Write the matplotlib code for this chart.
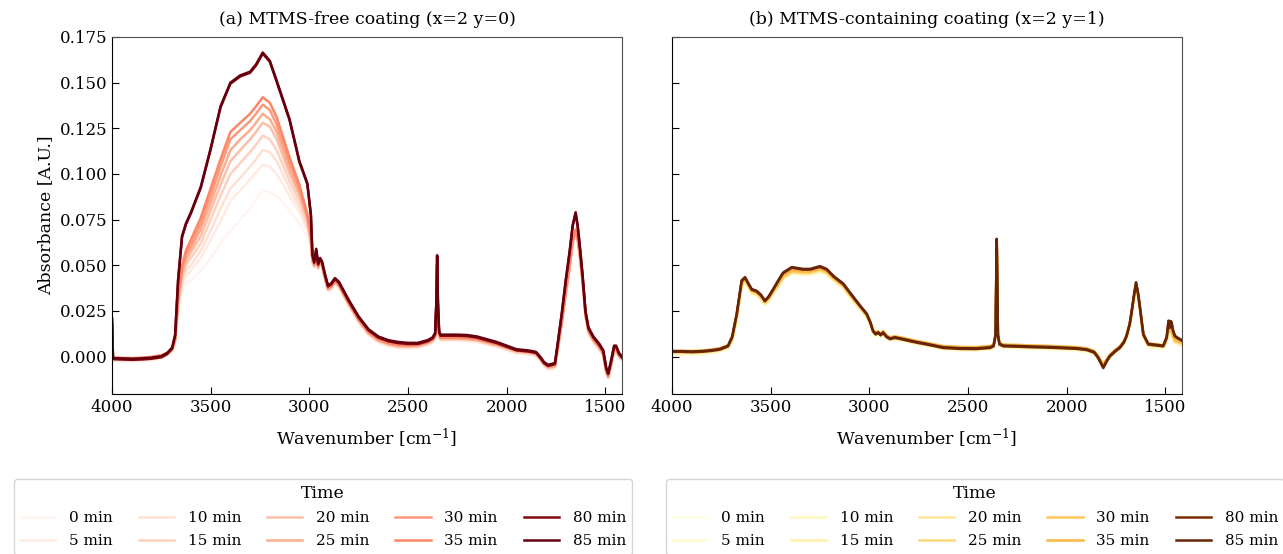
import numpy as np
import matplotlib
matplotlib.use("Agg")
import matplotlib.pyplot as plt
from matplotlib.ticker import MultipleLocator, FormatStrFormatter

plt.rcParams['font.family'] = ['DejaVu Serif']
plt.rcParams['mathtext.fontset'] = 'dejavuserif'

TIMES = [0, 5, 10, 15, 20, 25, 30, 35, 80, 85]
LABELS = [f"{t} min" for t in TIMES]
TITLES = ["(a) MTMS-free coating (x=2 y=0)", "(b) MTMS-containing coating (x=2 y=1)"]

# ---------------- Panel (a) ----------------
WN_A_HEAD = [4000, 3995, 3950, 3900, 3850, 3800, 3750]
A_HEAD_DARK = [0.021, -0.0008, -0.0010, -0.0012, -0.0010, -0.0006, 0.0002]
A_HEAD_LIGHT = [0.018, -0.0012, -0.0012, -0.0013, -0.0011, -0.0007, 0.0002]

WN_A_BAND = [3720, 3695, 3680, 3665, 3645, 3625, 3600, 3550, 3500, 3450, 3400,
             3350, 3300, 3270, 3236, 3200, 3165, 3100, 3050, 3010, 2992, 2984]
A_BAND_DARK = [0.002, 0.005, 0.012, 0.042, 0.066, 0.073, 0.079, 0.093, 0.114, 0.137, 0.150,
               0.154, 0.156, 0.160, 0.1665, 0.162, 0.151, 0.130, 0.107, 0.095, 0.078, 0.056]
A_BAND_35 = [0.002, 0.004, 0.010, 0.032, 0.050, 0.058, 0.064, 0.076, 0.092, 0.108, 0.123,
             0.128, 0.133, 0.137, 0.142, 0.139, 0.131, 0.109, 0.094, 0.078, 0.066, 0.054]
A_BAND_30 = [0.002, 0.004, 0.010, 0.031, 0.048, 0.056, 0.061, 0.073, 0.088, 0.104, 0.119,
             0.124, 0.129, 0.133, 0.138, 0.135, 0.127, 0.106, 0.092, 0.077, 0.065, 0.054]
A_BAND_25 = [0.002, 0.004, 0.009, 0.030, 0.047, 0.054, 0.059, 0.070, 0.084, 0.099, 0.113,
             0.119, 0.124, 0.128, 0.133, 0.130, 0.123, 0.103, 0.090, 0.076, 0.065, 0.053]
A_BAND_20 = [0.002, 0.004, 0.009, 0.029, 0.045, 0.052, 0.057, 0.066, 0.080, 0.094, 0.107,
             0.113, 0.119, 0.123, 0.128, 0.126, 0.119, 0.100, 0.088, 0.075, 0.064, 0.053]
A_BAND_15 = [0.001, 0.003, 0.009, 0.028, 0.043, 0.050, 0.054, 0.062, 0.075, 0.088, 0.100,
             0.106, 0.112, 0.116, 0.121, 0.119, 0.113, 0.096, 0.085, 0.073, 0.063, 0.052]
A_BAND_10 = [0.001, 0.003, 0.008, 0.027, 0.041, 0.047, 0.050, 0.058, 0.069, 0.081, 0.092,
             0.098, 0.104, 0.108, 0.113, 0.112, 0.107, 0.092, 0.082, 0.071, 0.062, 0.052]
A_BAND_5 = [0.001, 0.003, 0.008, 0.026, 0.039, 0.044, 0.047, 0.054, 0.064, 0.074, 0.085,
            0.091, 0.097, 0.101, 0.105, 0.104, 0.100, 0.088, 0.079, 0.069, 0.061, 0.051]
A_BAND_0 = [0.001, 0.003, 0.007, 0.024, 0.035, 0.040, 0.042, 0.047, 0.054, 0.062, 0.069,
            0.075, 0.081, 0.086, 0.091, 0.090, 0.088, 0.080, 0.073, 0.065, 0.059, 0.050]

WN_A_TAIL = [2975, 2965, 2955, 2945, 2935, 2920, 2905, 2890, 2870, 2850,
             2800, 2750, 2700, 2650, 2600, 2550, 2500, 2450, 2400, 2375,
             2362, 2356, 2352, 2348, 2342, 2335, 2300, 2250, 2200, 2150,
             2100, 2050, 2000, 1950, 1900, 1870, 1850, 1830, 1810, 1790,
             1770, 1755, 1740, 1720, 1700, 1680, 1665, 1650, 1640, 1630,
             1615, 1600, 1585, 1560, 1530, 1510, 1495, 1485, 1470, 1455,
             1445, 1430, 1415]
A_TAIL_DARK = [0.052, 0.059, 0.051, 0.054, 0.052, 0.045, 0.039, 0.040, 0.043, 0.041,
               0.031, 0.022, 0.015, 0.011, 0.009, 0.008, 0.0075, 0.0075, 0.009, 0.0105,
               0.013, 0.030, 0.0555, 0.030, 0.014, 0.012, 0.012, 0.012, 0.0118, 0.011,
               0.0095, 0.008, 0.006, 0.004, 0.0035, 0.003, 0.0025, 0.000, -0.003, -0.0045,
               -0.004, -0.0035, 0.008, 0.024, 0.042, 0.058, 0.072, 0.079, 0.072, 0.062,
               0.045, 0.025, 0.016, 0.011, 0.007, 0.0035, -0.006, -0.009, -0.002, 0.006,
               0.006, 0.002, 0.000]
A_TAIL_LIGHT = [0.050, 0.056, 0.049, 0.052, 0.050, 0.043, 0.037, 0.038, 0.041, 0.039,
                0.029, 0.020, 0.013, 0.009, 0.007, 0.006, 0.0058, 0.006, 0.0075, 0.009,
                0.011, 0.027, 0.050, 0.027, 0.012, 0.010, 0.010, 0.010, 0.0098, 0.0092,
                0.0078, 0.0065, 0.0048, 0.003, 0.0025, 0.002, 0.0015, -0.001, -0.004, -0.0058,
                -0.0055, -0.005, 0.005, 0.019, 0.035, 0.050, 0.063, 0.069, 0.065, 0.057,
                0.042, 0.023, 0.014, 0.009, 0.005, 0.0015, -0.008, -0.011, -0.004, 0.004,
                0.004, 0.0005, -0.001]
A_OFFSET = [-0.0015, -0.0010, -0.0008, -0.0005, -0.0003, 0.0, 0.0003, 0.0005, -0.0006, 0.0]

# ---------------- Panel (b) ----------------
WN_B = [4000, 3950, 3900, 3850, 3800, 3757, 3716, 3695, 3672, 3647,
        3630, 3612, 3596, 3571, 3550, 3529, 3510, 3487, 3460, 3437,
        3393, 3336, 3300, 3267, 3250, 3216, 3180, 3132, 3090, 3047,
        3013, 2995, 2981, 2968, 2955, 2942, 2930, 2912, 2895, 2870,
        2830, 2794, 2750, 2710, 2626, 2540, 2460, 2388, 2370, 2360,
        2354, 2348, 2340, 2320, 2250, 2170, 2100, 2030, 1949, 1900,
        1880, 1860, 1840, 1814, 1795, 1780, 1755, 1730, 1710, 1696,
        1680, 1670, 1658, 1648, 1638, 1628, 1611, 1586, 1550, 1510,
        1493, 1483, 1478, 1472, 1468, 1460, 1451, 1440, 1426, 1415]
B_DARK = [0.003, 0.003, 0.0028, 0.003, 0.0035, 0.0042, 0.006, 0.011, 0.0235, 0.0417,
          0.0435, 0.040, 0.037, 0.036, 0.034, 0.0307, 0.033, 0.037, 0.042, 0.046,
          0.049, 0.048, 0.048, 0.049, 0.0495, 0.048, 0.044, 0.040, 0.034, 0.028,
          0.0235, 0.019, 0.0142, 0.0125, 0.0133, 0.012, 0.0133, 0.011, 0.0099, 0.0106,
          0.0097, 0.0088, 0.0078, 0.007, 0.0051, 0.0046, 0.0045, 0.0051, 0.006, 0.012,
          0.0645, 0.012, 0.007, 0.006, 0.0058, 0.0055, 0.0053, 0.005, 0.0046, 0.004,
          0.0033, 0.0025, -0.0004, -0.0059, -0.002, 0.0005, 0.003, 0.0051, 0.008, 0.0115,
          0.018, 0.025, 0.034, 0.0407, 0.035, 0.027, 0.0124, 0.007, 0.0065, 0.006,
          0.0106, 0.0197, 0.016, 0.0195, 0.0188, 0.0142, 0.0115, 0.0105, 0.0097, 0.009]
B_LIGHT = [0.001, 0.001, 0.001, 0.0012, 0.0018, 0.0025, 0.004, 0.008, 0.020, 0.038,
           0.0405, 0.037, 0.034, 0.033, 0.031, 0.028, 0.030, 0.034, 0.038, 0.042,
           0.045, 0.0445, 0.0445, 0.0455, 0.046, 0.0445, 0.041, 0.037, 0.031, 0.0255,
           0.021, 0.017, 0.0125, 0.011, 0.0118, 0.0105, 0.0118, 0.0095, 0.0085, 0.009,
           0.0082, 0.0073, 0.0063, 0.0055, 0.0037, 0.0032, 0.0031, 0.0037, 0.0045, 0.010,
           0.060, 0.010, 0.0055, 0.0045, 0.0043, 0.004, 0.0038, 0.0035, 0.0031, 0.0025,
           0.0018, 0.001, -0.0018, -0.0065, -0.0032, -0.001, 0.0015, 0.0036, 0.0063, 0.0095,
           0.016, 0.0225, 0.031, 0.0375, 0.032, 0.0245, 0.010, 0.005, 0.0047, 0.0042,
           0.0075, 0.014, 0.012, 0.0135, 0.013, 0.009, 0.007, 0.0065, 0.006, 0.0055]
B_OFFSET = [0.0, 0.0003, 0.0006, 0.0009, 0.0012, 0.0015, 0.0018, 0.0021, -0.0004, 0.0]

A_BANDS_LIGHT = [A_BAND_0, A_BAND_5, A_BAND_10, A_BAND_15, A_BAND_20, A_BAND_25, A_BAND_30, A_BAND_35]

fig = plt.figure(figsize=(12.83, 5.54), dpi=100)
W, H = 1283, 554
axA = fig.add_axes([112 / W, 1 - 394 / H, 510 / W, 357 / H])
axB = fig.add_axes([672 / W, 1 - 394 / H, 510 / W, 357 / H], sharey=axA)

cmapA = plt.get_cmap('Reds')
cmapB = plt.get_cmap('YlOrBr')

wnA = np.array(WN_A_HEAD + WN_A_BAND + WN_A_TAIL, dtype=float)
for i, t in enumerate(TIMES):
    off = A_OFFSET[i]
    if t >= 80:
        y = np.concatenate([np.array(A_HEAD_DARK) + off, np.array(A_BAND_DARK) + off,
                            np.array(A_TAIL_DARK) + off])
    else:
        y = np.concatenate([np.array(A_HEAD_LIGHT) + off, np.array(A_BANDS_LIGHT[i]),
                            np.array(A_TAIL_LIGHT) + off])
    axA.plot(wnA, y, color=cmapA(t / 85), lw=1.8, label=LABELS[i])

wnB = np.array(WN_B, dtype=float)
for i, t in enumerate(TIMES):
    base = np.array(B_DARK) if t >= 80 else np.array(B_LIGHT)
    axB.plot(wnB, base + B_OFFSET[i], color=cmapB(t / 85), lw=1.8, label=LABELS[i])

for ax, title in zip([axA, axB], TITLES):
    ax.set_xlim(4000, 1415)
    ax.set_ylim(-0.0205, 0.175)
    ax.xaxis.set_major_locator(MultipleLocator(500))
    ax.yaxis.set_major_locator(MultipleLocator(0.025))
    ax.yaxis.set_major_formatter(FormatStrFormatter('%.3f'))
    ax.tick_params(direction='in', length=5, labelsize=12, top=False, right=False)
    ax.set_title(title, fontsize=12.5, pad=9)
    ax.set_xlabel(r'Wavenumber [cm$^{-1}$]', fontsize=12.5, labelpad=8)
    for s in ['top', 'right']:
        ax.spines[s].set_color('0.3')
    ax.legend(title='Time', ncol=5, fontsize=11, title_fontsize=12.5,
              loc='upper left',
              bbox_to_anchor=((14 if ax is axA else 666) / W, 1 - 479 / H),
              bbox_transform=fig.transFigure, borderaxespad=0,
              handlelength=2.3, handletextpad=0.9, columnspacing=1.7,
              labelspacing=0.6)

axA.set_ylabel('Absorbance [A.U.]', fontsize=12.5)
plt.setp(axB.get_yticklabels(), visible=False)

fig.savefig('out.png', dpi=100)
